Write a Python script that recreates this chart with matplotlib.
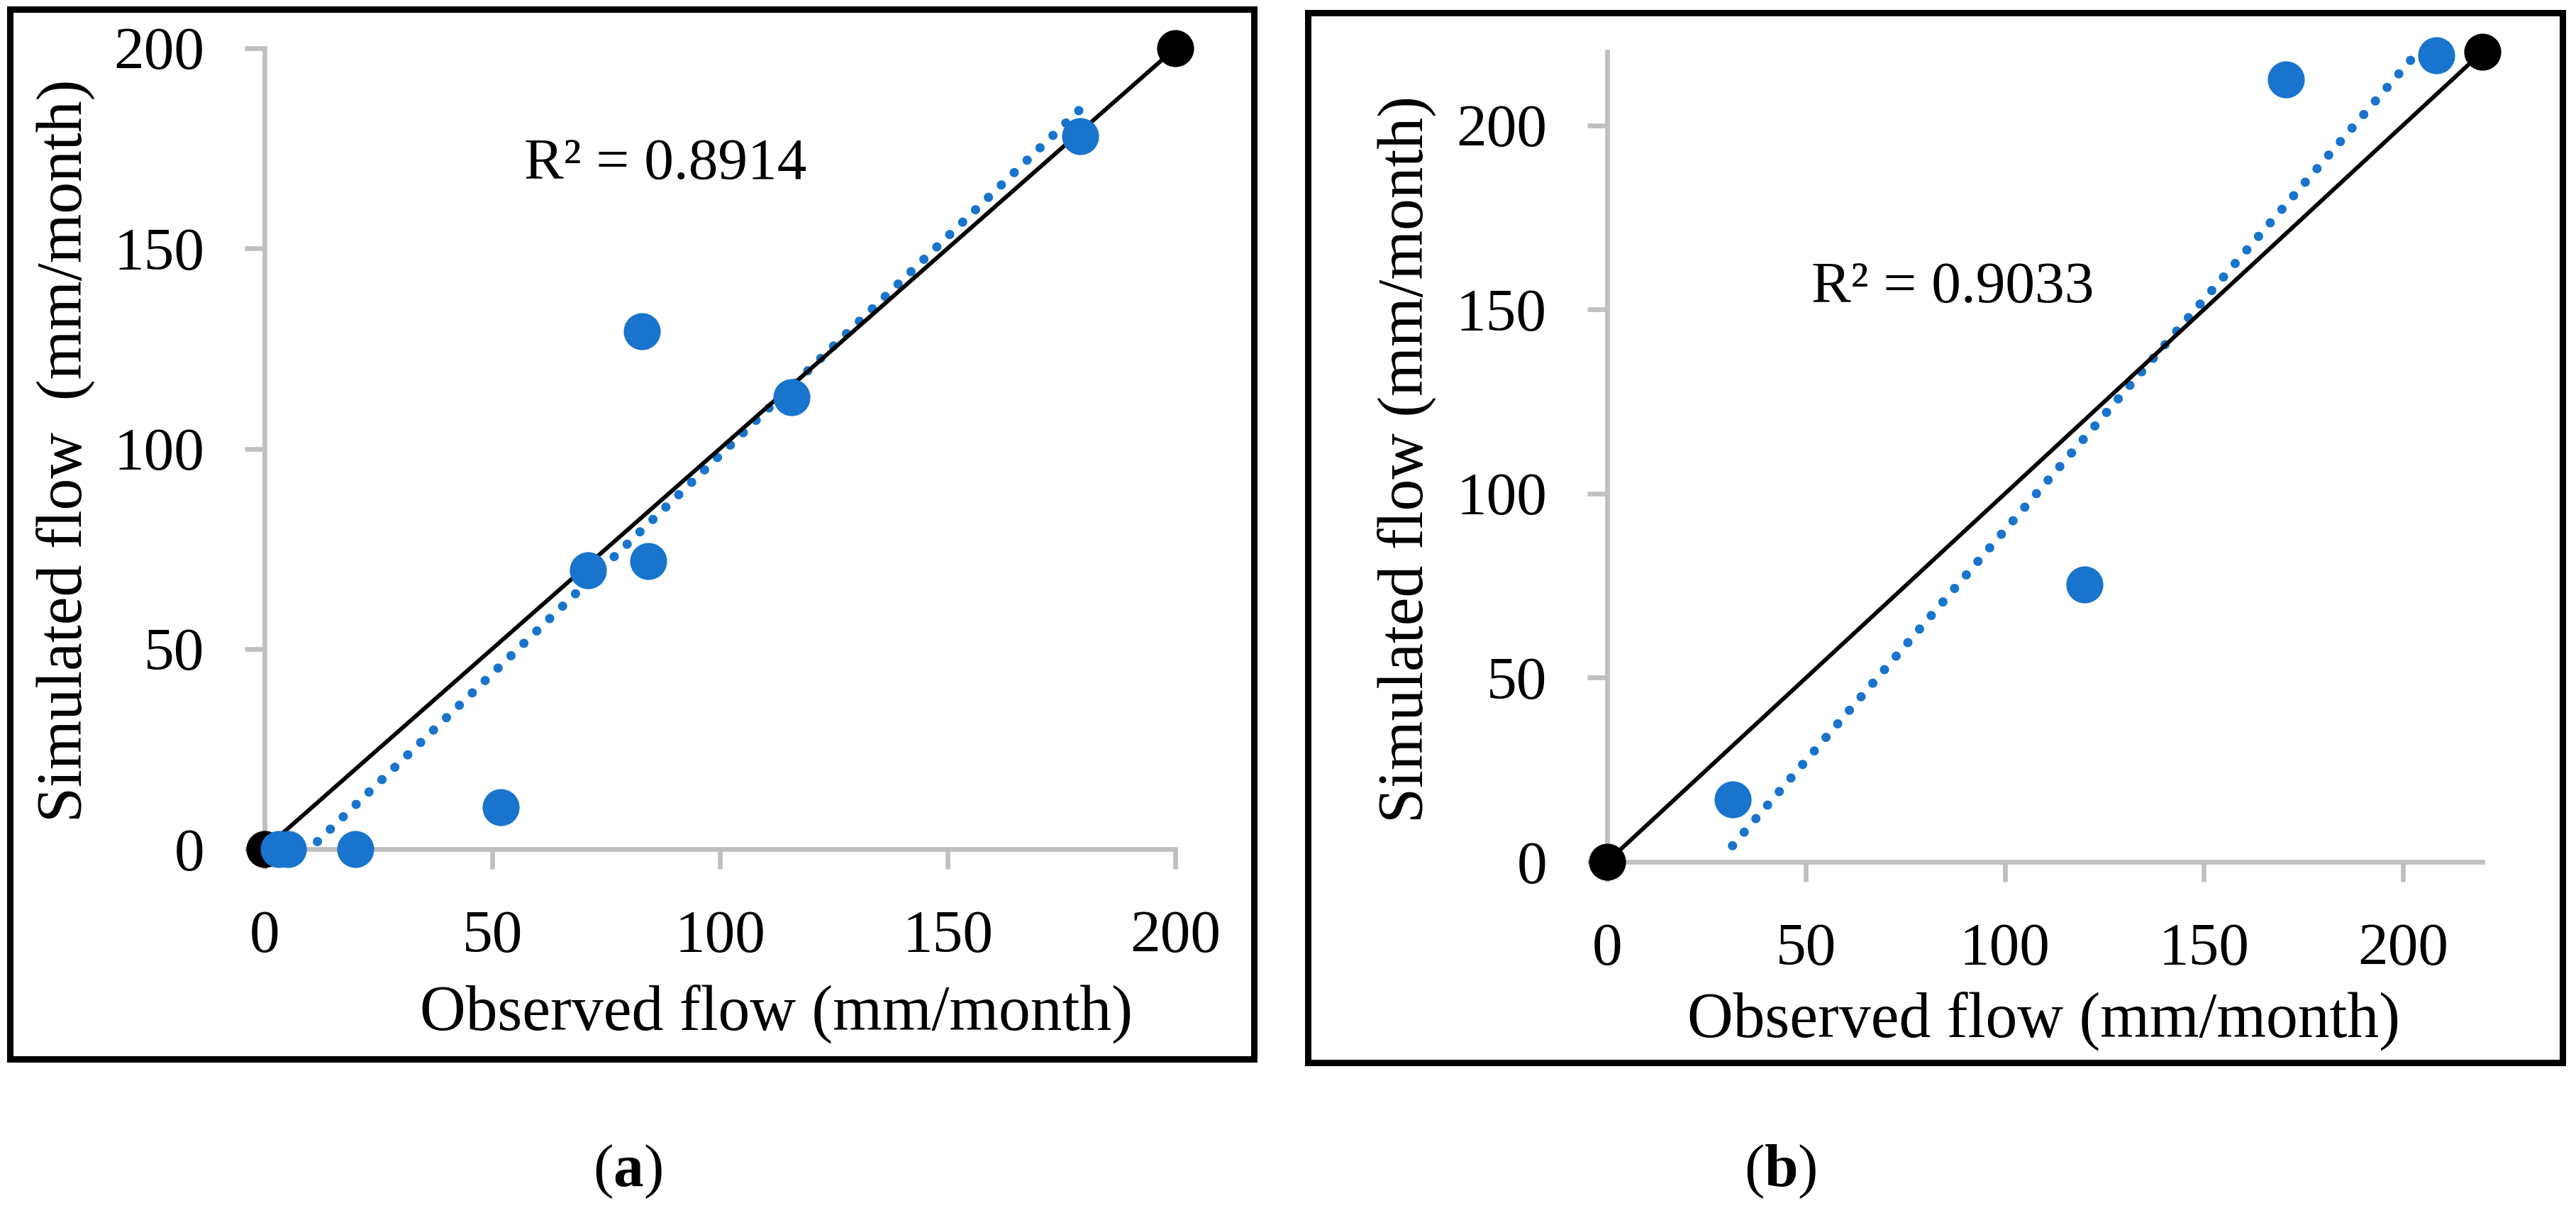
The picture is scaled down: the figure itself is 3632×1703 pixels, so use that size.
import numpy as np
import matplotlib
matplotlib.use("Agg")
import matplotlib.pyplot as plt
from matplotlib.patches import Rectangle

# ---------------- data ----------------
obs_a = [3.1, 5.1, 20.0, 51.9, 71.1, 82.8, 84.2, 115.8, 179.2]
sim_a = [0.0, 0.0, 0.0, 10.5, 69.7, 129.3, 71.9, 112.8, 178.1]
line_a = [0, 200]
obs_b = [31.5, 120.0, 170.7, 208.5]
sim_b = [17.0, 75.4, 212.5, 219.1]
line_b = [0, 220]
ticks = [0, 50, 100, 150, 200]
r2_a = "R\u00b2 = 0.8914"
r2_b = "R\u00b2 = 0.9033"
xlabel = "Observed flow (mm/month)"
ylabel_a = "Simulated flow  (mm/month)"
ylabel_b = "Simulated flow (mm/month)"

plt.rcParams['font.family'] = ['Liberation Serif', 'DejaVu Serif']
plt.rcParams['mathtext.fontset'] = 'custom'
plt.rcParams['mathtext.rm'] = 'Liberation Serif'
plt.rcParams['mathtext.bf'] = 'Liberation Serif:bold'

W, H = 3632, 1703
DPI = 300
fig = plt.figure(figsize=(W / DPI, H / DPI), dpi=DPI)

BLUE = '#1874CD'
GRAY = '#BFBFBF'
PX = 72.0 / DPI  # points per pixel


def fx(px):
    return px / W


def fy(py):
    return 1 - py / H


def make_axes(x0, x1, ytop, ybot):
    return fig.add_axes([fx(x0), fy(ybot), (x1 - x0) / W, (ybot - ytop) / H])


def style(ax, lim):
    ax.set_xlim(0, lim)
    ax.set_ylim(0, lim)
    ax.set_xticks(ticks)
    ax.set_yticks(ticks)
    for s in ['top', 'right']:
        ax.spines[s].set_visible(False)
    for s in ['left', 'bottom']:
        ax.spines[s].set_color(GRAY)
        ax.spines[s].set_linewidth(6.7 * PX)
    ax.tick_params(axis='both', direction='out', length=28 * PX,
                   width=6.7 * PX, color=GRAY, labelsize=20.5,
                   labelcolor='black')
    ax.tick_params(axis='y', pad=57 * PX)
    ax.tick_params(axis='x', pad=58 * PX)
    ax.patch.set_alpha(0)


def draw(ax, obs, sim, line, lim):
    # 1:1 line with black end points
    ax.plot(line, line, color='black', lw=1.4, marker='o',
            ms=48 * PX, clip_on=False, zorder=3)
    # linear trend line of the simulated vs observed points
    k, b = np.polyfit(obs, sim, 1)
    xs = np.array([min(obs), max(obs)])
    ax.plot(xs, k * xs + b, color=BLUE, lw=13 * PX,
            linestyle=(0, (0.01, 1.93)), dash_capstyle='round',
            clip_on=True, zorder=2)
    ax.plot(obs, sim, linestyle='none', marker='o', color=BLUE,
            ms=48 * PX, clip_on=False, zorder=4)
    style(ax, lim)


ax_a = make_axes(373, 1657, 68, 1197)
draw(ax_a, obs_a, sim_a, line_a, 200)
ax_b = make_axes(2266, 3500, 73, 1215)
draw(ax_b, obs_b, sim_b, line_b, 220)

# frames around each panel
for (x0, y0, x1, y1) in [(13.5, 12.5, 1768, 1492.5), (1843.5, 18, 3613, 1497.5)]:
    fig.patches.append(Rectangle((fx(x0), fy(y1)), (x1 - x0) / W, (y1 - y0) / H,
                                 transform=fig.transFigure, fill=False,
                                 edgecolor='black', linewidth=9 * PX))

# texts
fig.text(fx(739), fy(253), r2_a, fontsize=20, ha='left', va='baseline')
fig.text(fx(2554), fy(427), r2_b, fontsize=20, ha='left', va='baseline')

fig.text(fx(1095), fy(1452), xlabel, fontsize=21.5, ha='center', va='baseline')
fig.text(fx(2882), fy(1462), xlabel, fontsize=21.5, ha='center', va='baseline')

fig.text(fx(115), fy(635), ylabel_a, fontsize=21.5, rotation=90,
         rotation_mode='anchor', ha='center', va='baseline')
fig.text(fx(2006), fy(647), ylabel_b, fontsize=21.5, rotation=90,
         rotation_mode='anchor', ha='center', va='baseline')

fig.text(fx(885), fy(1672), r'($\mathbf{a}$)', fontsize=20.5, ha='center', va='baseline')
fig.text(fx(2510), fy(1672), r'($\mathbf{b}$)', fontsize=20.5, ha='center', va='baseline')

fig.savefig('out.png', dpi=DPI, facecolor='white')
